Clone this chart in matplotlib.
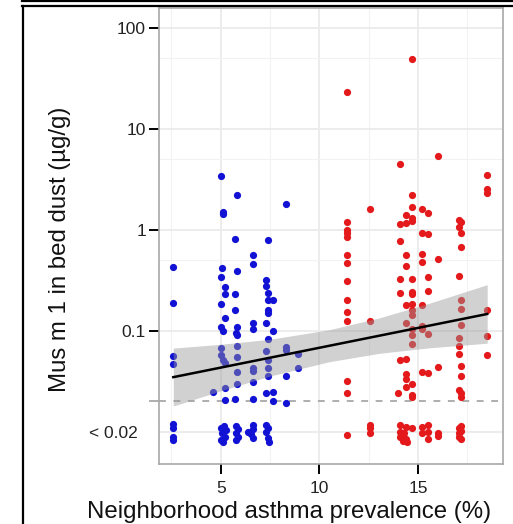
import numpy as np
import matplotlib
matplotlib.use("Agg")
import matplotlib.pyplot as plt
from matplotlib.lines import Line2D
from matplotlib.transforms import blended_transform_factory, ScaledTranslation

plt.rcParams['font.family'] = ['Liberation Sans', 'DejaVu Sans']

# low-asthma neighborhoods (blue), detected allergen
blue_x = [5.03, 5.83, 8.29, 5.12, 5.12, 5.73, 7.41, 6.62, 6.62, 2.59,
          5.05, 5.81, 5.00, 7.32, 7.32, 5.22, 7.41, 5.22, 5.73, 7.40,
          7.65, 2.59, 5.00, 5.73, 7.40, 7.40, 5.22, 5.03, 5.12, 5.83,
          5.76, 5.83, 6.62, 6.62, 7.32, 7.63, 7.41, 5.83, 5.00, 2.59,
          2.59, 5.03, 5.10, 5.22, 5.83, 7.32, 7.40, 8.29, 8.32, 8.92,
          8.92, 6.62, 6.62, 7.40, 5.81, 7.40, 8.29, 6.62, 5.81, 4.63,
          5.22, 7.31, 7.63, 5.24, 5.73, 6.62, 7.63, 8.29]
blue_y = [3.4, 2.2, 1.8, 1.5, 1.45, 0.82, 0.80, 0.56, 0.46, 0.43,
          0.42, 0.39, 0.34, 0.32, 0.28, 0.27, 0.24, 0.23, 0.23, 0.20,
          0.20, 0.19, 0.186, 0.16, 0.16, 0.15, 0.135, 0.11, 0.10, 0.11,
          0.095, 0.09, 0.12, 0.105, 0.12, 0.10, 0.083, 0.071, 0.067, 0.057,
          0.047, 0.058, 0.051, 0.048, 0.055, 0.063, 0.052, 0.070, 0.064, 0.059,
          0.043, 0.043, 0.040, 0.043, 0.039, 0.036, 0.036, 0.031, 0.030, 0.025,
          0.027, 0.024, 0.025, 0.0205, 0.021, 0.021, 0.020, 0.0195]
# blue, below detection limit
blue_nd_x = [2.59, 2.59, 2.59, 2.59, 5.03, 5.15, 5.25, 5.05, 5.20, 5.03,
             5.12, 5.76, 5.86, 5.76, 5.86, 5.76, 6.62, 6.62, 6.37, 6.52,
             6.65, 7.32, 7.40, 7.30, 7.40, 7.45]
blue_nd_y = [0.012, 0.011, 0.0089, 0.0083, 0.011, 0.0115, 0.0105, 0.0098, 0.0089, 0.0083,
             0.0080, 0.0115, 0.0107, 0.0098, 0.0089, 0.0083, 0.0117, 0.0107, 0.010, 0.0096,
             0.0087, 0.0117, 0.011, 0.010, 0.0087, 0.008]

# high-asthma neighborhoods (red), detected allergen
red_x = [14.69, 11.40, 15.99, 14.08, 18.49, 18.49, 18.49, 14.69, 12.58, 14.69,
         15.20, 15.50, 14.41, 14.69, 14.69, 14.08, 14.41, 11.40, 11.40, 11.40,
         11.40, 17.07, 17.19, 17.07, 17.19, 15.20, 15.50, 14.08, 17.19, 11.40,
         14.41, 15.20, 15.99, 11.40, 14.41, 15.20, 14.08, 14.69, 15.50, 17.07,
         11.40, 14.08, 14.69, 14.69, 15.50, 11.40, 17.19, 14.41, 14.69, 15.20,
         17.19, 18.49, 11.40, 14.69, 14.69, 11.40, 12.58, 14.41, 17.19, 15.20,
         15.20, 15.50, 14.69, 14.69, 14.69, 18.49, 17.07, 17.07, 17.07, 18.49,
         14.08, 14.41, 17.19, 17.19, 15.99, 15.20, 15.50, 11.40, 14.41, 14.41,
         14.69, 14.41, 17.07, 17.19, 17.19, 11.40, 14.00, 14.69, 14.69]
red_y = [49, 23, 5.4, 4.5, 3.5, 2.55, 2.3, 2.2, 1.6, 1.68,
         1.61, 1.48, 1.41, 1.31, 1.24, 1.15, 1.17, 1.21, 1.0, 0.93,
         0.86, 1.26, 1.21, 1.08, 0.93, 0.94, 0.91, 0.78, 0.67, 0.57,
         0.57, 0.58, 0.52, 0.47, 0.44, 0.48, 0.33, 0.33, 0.34, 0.35,
         0.31, 0.24, 0.245, 0.23, 0.25, 0.20, 0.20, 0.18, 0.185, 0.18,
         0.163, 0.16, 0.154, 0.161, 0.145, 0.124, 0.124, 0.12, 0.115, 0.112,
         0.104, 0.093, 0.105, 0.091, 0.074, 0.088, 0.085, 0.071, 0.059, 0.058,
         0.052, 0.053, 0.045, 0.036, 0.044, 0.039, 0.038, 0.032, 0.037, 0.033,
         0.030, 0.028, 0.026, 0.024, 0.022, 0.024, 0.0245, 0.023, 0.022]
# red, below detection limit
red_nd_x = [11.40, 12.58, 12.58, 12.58, 14.08, 14.41, 14.69, 14.08, 14.27, 14.08,
            14.41, 14.22, 14.43, 15.20, 15.50, 15.50, 15.50, 15.20, 15.99, 15.99,
            17.07, 17.19, 17.19, 17.07, 17.07, 17.19]
red_nd_y = [0.0093, 0.0117, 0.011, 0.0098, 0.0117, 0.0112, 0.011, 0.010, 0.0098, 0.0089,
            0.0085, 0.0082, 0.008, 0.0112, 0.0117, 0.010, 0.0084, 0.0098, 0.0098, 0.009,
            0.011, 0.0114, 0.0102, 0.0098, 0.0089, 0.0084]

# fitted trend and its 95% band
fit_x = [2.6, 5, 7.5, 10.5, 13, 15.5, 18.5]
fit_mid = [0.0348, 0.0434, 0.0543, 0.0713, 0.0895, 0.112, 0.147]
fit_lo = [0.0180, 0.0255, 0.0357, 0.0495, 0.0598, 0.0678, 0.0755]
fit_hi = [0.0675, 0.0736, 0.0826, 0.1026, 0.134, 0.186, 0.287]

ytick_vals = [0.01, 0.1, 1, 10, 100]
ytick_labels = ['< 0.02', '0.1', '1', '10', '100']
xtick_vals = [5, 10, 15]
detect_limit = 0.02

fig = plt.figure(figsize=(5.13, 5.24), dpi=100)
W, H = 513, 524
ax = fig.add_axes([158.5 / W, 1 - 464 / H, (503 - 158.5) / W, (464 - 8) / H])

ax.set_yscale('log')
ax.set_xlim(1.85, 19.3)
ax.set_ylim(0.0048, 158)

# points
ax.scatter(blue_x + blue_nd_x, blue_y + blue_nd_y, s=27, color='#1212d4',
           linewidths=0, zorder=3)
ax.scatter(red_x + red_nd_x, red_y + red_nd_y, s=27, color='#e3191c',
           linewidths=0, zorder=3)

# trend with confidence band (smooth through the read values on log scale)
xg = np.linspace(fit_x[0], fit_x[-1], 120)
lo = 10 ** np.interp(xg, fit_x, np.log10(fit_lo))
hi = 10 ** np.interp(xg, fit_x, np.log10(fit_hi))
ax.fill_between(xg, lo, hi, color='#999999', alpha=0.45, linewidth=0, zorder=4)
ax.plot([fit_x[0], fit_x[-1]], [fit_mid[0], fit_mid[-1]], color='black', lw=1.8, zorder=5)

# detection limit
ax.axhline(detect_limit, color='#a8a8a8', lw=1.3, dashes=(3.8, 4.2), zorder=2)
tr = blended_transform_factory(ax.transAxes, ax.transData)
ax.plot([-0.026, 0], [detect_limit, detect_limit], color='#a8a8a8', lw=1.3,
        transform=tr, clip_on=False)

# grid
ax.set_xticks(xtick_vals)
ax.set_xticks([2.5, 7.5, 12.5, 17.5], minor=True)
ax.set_yticks(ytick_vals)
ax.set_yticklabels(ytick_labels)
ax.set_yticks([50, 5, 0.5], minor=True)
ax.yaxis.set_minor_formatter(plt.NullFormatter())
ax.grid(which='major', color='#ebebeb', lw=1.3, zorder=0)
ax.grid(which='minor', color='#f2f2f2', lw=0.8, zorder=0)
ax.set_axisbelow(True)

ax.tick_params(which='major', length=7, width=1.4, color='black',
               labelsize=12.5, labelcolor='#222222', pad=2)
ax.tick_params(axis='x', which='major', pad=5)
ax.tick_params(which='minor', length=0)
ax.yaxis.get_major_ticks()[0].tick1line.set_visible(False)

# "< 0.02" sits a little left of the other labels
lab = ax.get_yticklabels()[0]
lab.set_transform(lab.get_transform() + ScaledTranslation(-8 / 100, 0, fig.dpi_scale_trans))

for sp in ax.spines.values():
    sp.set_color('#a8a8a8')
    sp.set_linewidth(1.2)

fig.text(60 / W, 1 - 249 / H, 'Mus m 1 in bed dust (µg/g)', rotation=90,
         ha='center', va='center', fontsize=17.3, color='#111111')
fig.text(289.5 / W, 1 - 512 / H, 'Neighborhood asthma prevalence (%)',
         ha='center', va='center', fontsize=17.3, color='#111111')

# outer frame
fig.add_artist(Line2D([22 / W, 1], [1 - 1 / H, 1 - 1 / H], color='black', lw=1.6))
fig.add_artist(Line2D([22 / W, 1], [1 - 5.5 / H, 1 - 5.5 / H], color='black', lw=1.6))
fig.add_artist(Line2D([23 / W, 23 / W], [0, 1 - 5.5 / H], color='black', lw=1.6))

fig.savefig('out.png', dpi=100)
